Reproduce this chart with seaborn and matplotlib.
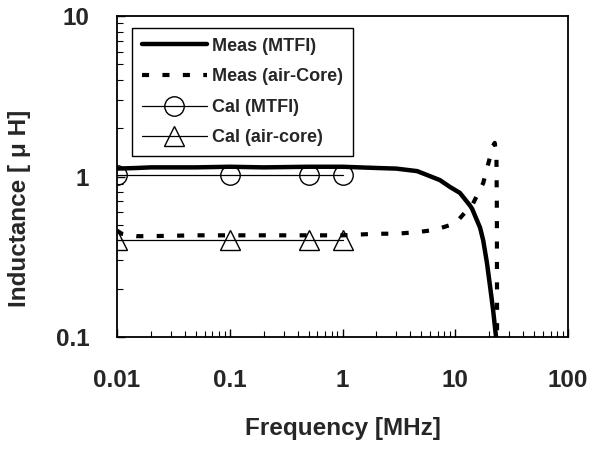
import numpy as np
import pandas as pd
import matplotlib
matplotlib.use("Agg")
import matplotlib.pyplot as plt
from matplotlib import ticker
import seaborn as sns

# ---- data ----
meas_mtfi_f = [0.01, 0.015, 0.02, 0.05, 0.1, 0.2, 0.5, 1.0, 2.0, 3.0, 4.6, 7.3,
               9.0, 11.0, 13.5, 14.1, 16.6, 17.7, 19.1, 20.3, 21.6, 23.0, 23.5]
meas_mtfi_L = [1.12, 1.13, 1.14, 1.14, 1.15, 1.14, 1.15, 1.15, 1.13, 1.12, 1.08, 0.95,
               0.86, 0.79, 0.66, 0.63, 0.48, 0.40, 0.29, 0.21, 0.15, 0.10, 0.09]

meas_air_f = [0.01, 0.011, 0.013, 0.015, 0.02, 0.05, 0.1, 0.2, 0.5, 1.0, 2.0, 3.0,
              4.6, 6.6, 10.0, 14.4, 17.7, 19.5, 21.6, 22.4, 23.2, 23.4, 23.5]
meas_air_L = [0.46, 0.44, 0.43, 0.425, 0.425, 0.43, 0.43, 0.43, 0.43, 0.43, 0.44, 0.44,
              0.45, 0.465, 0.51, 0.68, 0.91, 1.18, 1.55, 1.62, 1.3, 0.6, 0.09]

cal_f = [0.01, 0.1, 0.5, 1.0]
cal_mtfi_L = [1.02, 1.02, 1.02, 1.02]
cal_air_L = [0.40, 0.40, 0.40, 0.40]

x_ticks = [0.01, 0.1, 1, 10, 100]
x_tick_labels = ["0.01", "0.1", "1", "10", "100"]
y_ticks = [0.1, 1, 10]
y_tick_labels = ["0.1", "1", "10"]

sns.set_theme(style="white")
plt.rcParams['font.family'] = ['Liberation Sans', 'DejaVu Sans']
plt.rcParams['font.weight'] = 'bold'

fig = plt.figure(figsize=(5.92, 4.53), dpi=100)
ax = fig.add_axes([117/592, 1 - 337/453, (568-117)/592, (337-16)/453])

df1 = pd.DataFrame({"f": meas_mtfi_f, "L": meas_mtfi_L})
df2 = pd.DataFrame({"f": meas_air_f, "L": meas_air_L})
df3 = pd.DataFrame({"f": cal_f, "L": cal_mtfi_L})
df4 = pd.DataFrame({"f": cal_f, "L": cal_air_L})

sns.lineplot(data=df1, x="f", y="L", ax=ax, color="black", lw=3.2,
             label="Meas (MTFI)", sort=False)
sns.lineplot(data=df2, x="f", y="L", ax=ax, color="black", lw=3.0,
             linestyle=(0, (1.7, 3.2)), label="Meas (air-Core)", sort=False)
sns.lineplot(data=df3, x="f", y="L", ax=ax, color="black", lw=0.9,
             marker="o", markersize=14, markerfacecolor="none",
             markeredgecolor="black", markeredgewidth=1.0, label="Cal (MTFI)")
sns.lineplot(data=df4, x="f", y="L", ax=ax, color="black", lw=0.9,
             marker="^", markersize=14, markerfacecolor="none",
             markeredgecolor="black", markeredgewidth=1.0, label="Cal (air-core)")

ax.set_xscale("log")
ax.set_yscale("log")
ax.set_xlim(0.01, 100)
ax.set_ylim(0.1, 10)

ax.xaxis.set_major_locator(ticker.FixedLocator(x_ticks))
ax.xaxis.set_major_formatter(ticker.FixedFormatter(x_tick_labels))
ax.yaxis.set_major_locator(ticker.FixedLocator(y_ticks))
ax.yaxis.set_major_formatter(ticker.FixedFormatter(y_tick_labels))
ax.xaxis.set_minor_locator(ticker.LogLocator(base=10, subs=np.arange(2, 10)))
ax.yaxis.set_minor_locator(ticker.LogLocator(base=10, subs=np.arange(2, 10)))
ax.xaxis.set_minor_formatter(ticker.NullFormatter())
ax.yaxis.set_minor_formatter(ticker.NullFormatter())

ax.tick_params(axis="both", which="major", direction="in", length=6, width=1,
               color="black", labelsize=17.5, bottom=True, left=True)
ax.tick_params(axis="both", which="minor", direction="in", length=4, width=0.8,
               color="black", bottom=True, left=True)
ax.tick_params(axis="x", which="major", pad=23)
ax.tick_params(axis="y", which="major", pad=20)

for s in ax.spines.values():
    s.set_color("black")
    s.set_linewidth(1.3)

ax.set_xlabel("Frequency [MHz]", fontsize=17.5, fontweight="bold", labelpad=18)
ax.set_ylabel("Inductance [ μ H]", fontsize=17.5, fontweight="bold")
ax.yaxis.set_label_coords(-0.19, 0.40)

leg = ax.legend(loc="upper left", bbox_to_anchor=(0.033, 0.963), fontsize=13,
                frameon=True, fancybox=False, edgecolor="black", framealpha=1,
                handlelength=3.6, handletextpad=0.3, labelspacing=0.75,
                borderpad=0.55, borderaxespad=0)
leg.get_frame().set_linewidth(1.0)
for t in leg.get_texts():
    t.set_fontweight("bold")

fig.savefig("out.png", dpi=100)
